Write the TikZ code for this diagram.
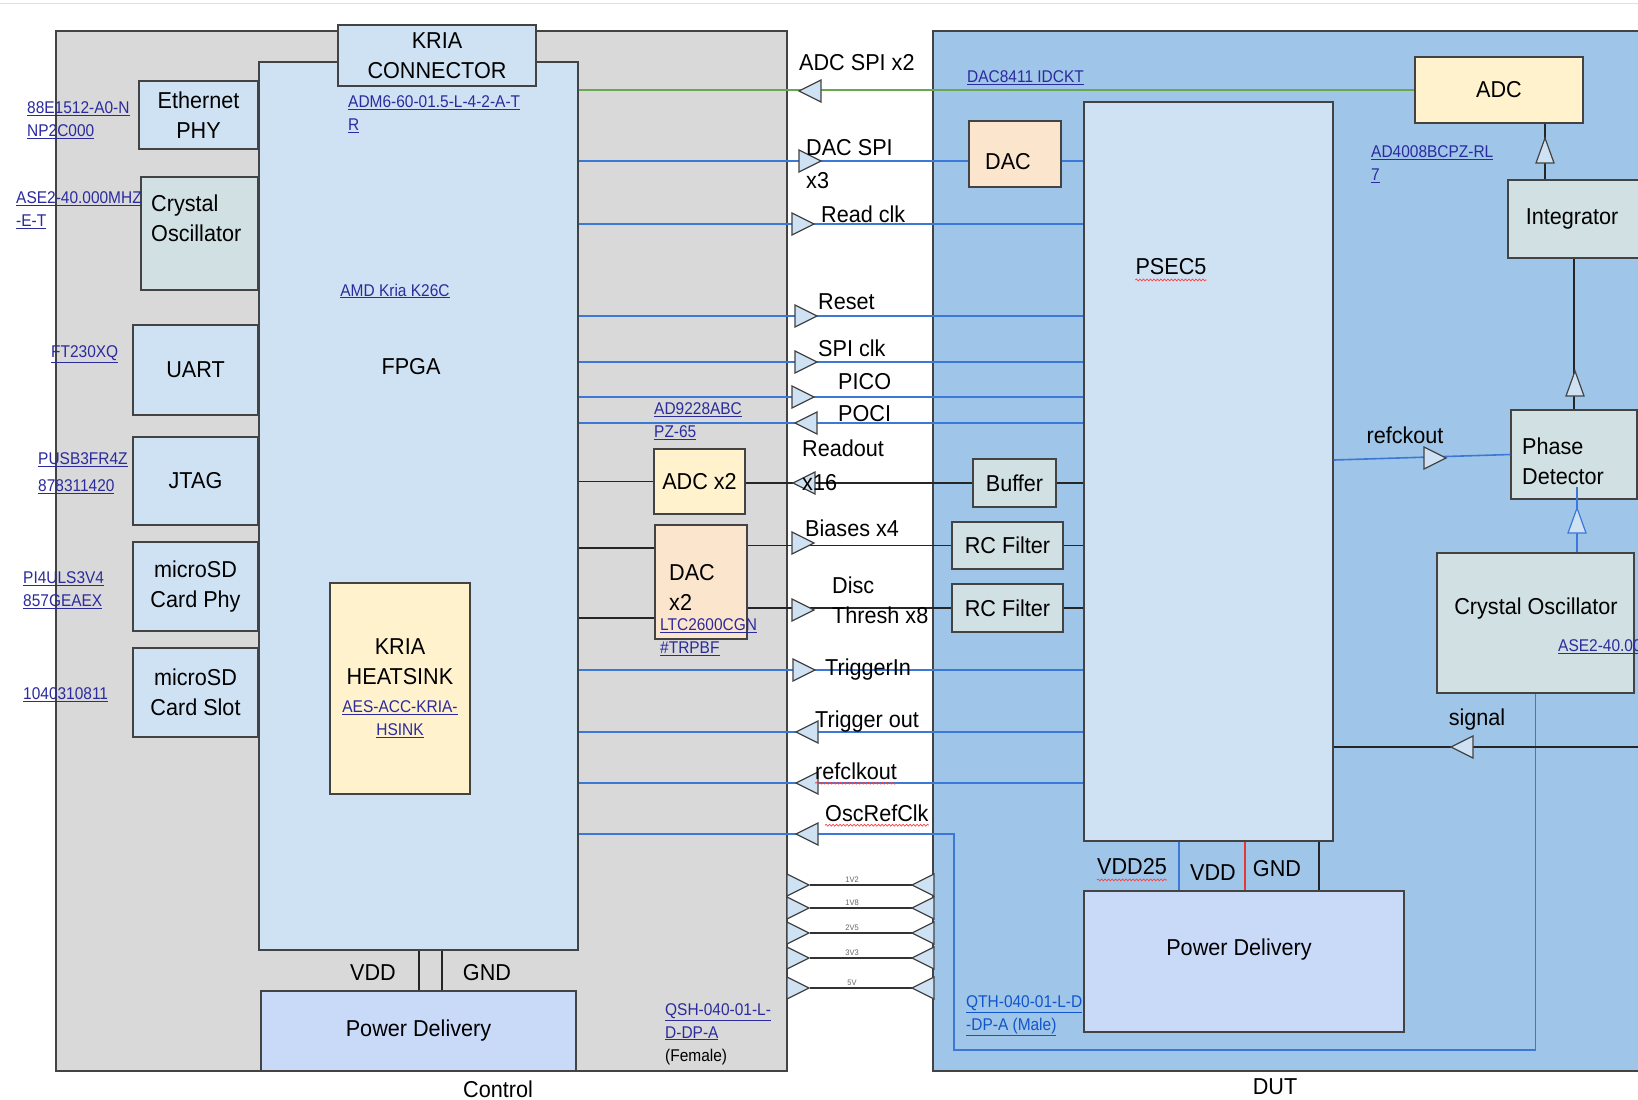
\documentclass[tikz,border=0pt]{standalone}
\usepackage{fontspec}
\setmainfont{Liberation Sans}[FakeStretch=0.94]
\newfontfamily\lnkfont{Liberation Sans}[FakeStretch=0.91]
\usetikzlibrary{decorations.pathmorphing}

\definecolor{ctrlgray}{HTML}{D9D9D9}
\definecolor{dutblue}{HTML}{9FC5E8}
\definecolor{paleblue}{HTML}{CFE2F3}
\definecolor{palecyan}{HTML}{D0E0E3}
\definecolor{paleyel}{HTML}{FFF2CC}
\definecolor{paleorg}{HTML}{FCE5CD}
\definecolor{pdblue}{HTML}{C9DAF8}
\definecolor{boxline}{HTML}{434343}
\definecolor{wireblue}{HTML}{3C78D8}
\definecolor{wiregreen}{HTML}{6AA84F}
\definecolor{wirered}{HTML}{E53935}
\definecolor{linkc}{HTML}{2B2B9E}
\definecolor{linkb}{HTML}{1155CC}

\newcommand{\mainsz}{\fontsize{23}{30}\selectfont}
\newcommand{\lnksz}{\lnkfont\fontsize{17}{23}\selectfont}
\newcommand{\ulk}[1]{\underline{#1}}
\newcommand{\triR}[3][boxline]{\filldraw[tri, draw=#1] (#2,#3-11) -- (#2+22,#3) -- (#2,#3+11) -- cycle;}
\newcommand{\triL}[3][boxline]{\filldraw[tri, draw=#1] (#2,#3-11) -- (#2-22,#3) -- (#2,#3+11) -- cycle;}
\newcommand{\triU}[3][boxline]{\filldraw[tri, draw=#1] (#2-9,#3) -- (#2,#3-25) -- (#2+9,#3) -- cycle;}

\tikzset{
  blk/.style={draw=boxline, line width=1.4pt, inner sep=0pt, align=center, font=\mainsz},
  txt/.style={inner sep=0pt, align=left, font=\mainsz, text=black},
  lnk/.style={inner sep=0pt, align=left, font=\lnksz, text=linkc},
  sigb/.style={draw=wireblue, line width=1.6pt},
  sigg/.style={draw=wiregreen, line width=1.6pt},
  sigk/.style={draw=black!85, line width=1.4pt},
  tri/.style={fill=paleblue, line width=1.2pt},
  pwrtag/.style={font=\fontsize{8}{8}\selectfont, text=black!60, inner sep=0pt},
  spell/.style={draw=red!75, line width=0.7pt, decorate,
    decoration={snake, amplitude=0.9pt, segment length=3.5pt}}
}

\begin{document}
\begin{tikzpicture}[x=1pt, y=-1pt]
    % --- 0. 畫布 ---
    \useasboundingbox (0,0) rectangle (1638,1100);
    \clip (0,0) rectangle (1638,1100);
    \fill[white] (0,0) rectangle (1638,1100);
    \draw[black!12, line width=1pt] (0,3) -- (1638,3);

    % --- 1. 外框 Control 與 DUT ---
    \node[blk, fill=ctrlgray, minimum width=731, minimum height=1040] (ctrl) at (421.5,551) {};
    \node[blk, fill=dutblue, minimum width=727, minimum height=1040] (dut) at (1296.5,551) {};
    \node[txt] (ctrlT) at (498,1089) {Control};
    \node[txt] (dutT) at (1275,1087) {DUT};

    % --- 2. FPGA 與 KRIA ---
    \node[blk, fill=paleblue, minimum width=319, minimum height=888] (fpga) at (418.5,506) {};
    \node[blk, fill=paleblue, minimum width=198, minimum height=61] (kconn) at (437,55.5) {KRIA\\CONNECTOR};
    \node[lnk, anchor=west] (admL) at (348,114) {\ulk{ADM6-60-01.5-L-4-2-A-T}\\\ulk{R}};
    \node[lnk] (k26L) at (395,291) {\ulk{AMD Kria K26C}};
    \node[txt] (fpgaT) at (411,367) {FPGA};
    \node[blk, fill=paleyel, minimum width=140, minimum height=211] (sink) at (400,688.5)
      {KRIA\\HEATSINK\\[-2pt]{\lnksz\color{linkc}\ulk{AES-ACC-KRIA-}}\\[-7pt]{\lnksz\color{linkc}\ulk{HSINK}}};

    % --- 3. 左側周邊 ---
    \node[blk, fill=paleblue, minimum width=119, minimum height=68] (eth) at (198.5,115) {Ethernet\\PHY};
    \node[blk, fill=palecyan, minimum width=117, minimum height=113] (xoL) at (199.5,233.5) {};
    \node[txt, anchor=west] (xoLT) at (151,218) {Crystal\\Oscillator};
    \node[blk, fill=paleblue, minimum width=125, minimum height=90] (uart) at (195.5,370) {UART};
    \node[blk, fill=paleblue, minimum width=125, minimum height=88] (jtag) at (195.5,481) {JTAG};
    \node[blk, fill=paleblue, minimum width=125, minimum height=89] (sdphy) at (195.5,586.5) {microSD\\Card Phy};
    \node[blk, fill=paleblue, minimum width=125, minimum height=89] (sdslot) at (195.5,692.5) {microSD\\Card Slot};

    \node[lnk, anchor=west] (ethL) at (27,120) {\ulk{88E1512-A0-N}\\\ulk{NP2C000}};
    \node[lnk, anchor=west] (xoLL) at (16,210) {\ulk{ASE2-40.000MHZ}\\\ulk{-E-T}};
    \node[lnk, anchor=west] (uartL) at (51,354) {\ulk{FT230XQ}};
    \node[lnk, anchor=west] (jtagL) at (38,473) {\ulk{PUSB3FR4Z}\\[4pt]\ulk{878311420}};
    \node[lnk, anchor=west] (sdphyL) at (23,590) {\ulk{PI4ULS3V4}\\\ulk{857GEAEX}};
    \node[lnk, anchor=west] (sdslotL) at (23,695) {\ulk{1040310811}};

    % --- 4. ADC x2 與 DAC x2 ---
    \node[blk, fill=paleyel, minimum width=91, minimum height=65] (adc2) at (699.5,481.5) {ADC x2};
    \node[lnk, anchor=west] (adc2L) at (654,421) {\ulk{AD9228ABC}\\\ulk{PZ-65}};
    \node[blk, fill=paleorg, minimum width=92, minimum height=114] (dac2) at (701,582) {};
    \node[txt, anchor=west] (dac2T) at (669,587) {DAC\\x2};
    \node[lnk, anchor=west] (dac2L) at (660,637) {\ulk{LTC2600CGN}\\\ulk{\#TRPBF}};

    % --- 5. 電源 (Control) ---
    \node[blk, fill=pdblue, minimum width=315, minimum height=80] (pdC) at (418.5,1031) {Power Delivery};
    \node[txt] (vddC) at (373,973) {VDD};
    \node[txt] (gndC) at (487,973) {GND};
    \node[lnk, anchor=west] (qshL) at (665,1034) {\ulk{QSH-040-01-L-}\\\ulk{D-DP-A}\\{\color{black}(Female)}};

    % --- 6. DUT 方塊 ---
    \node[blk, fill=paleblue, minimum width=249, minimum height=739] (psec) at (1208.5,471.5) {};
    \node[txt] (psecT) at (1171,267) {PSEC5};
    \node[blk, fill=paleorg, minimum width=92, minimum height=66] (dac) at (1015,154) {};
    \node[txt] (dacT) at (1008,162) {DAC};
    \node[blk, fill=paleyel, minimum width=168, minimum height=66] (adc) at (1499,90) {ADC};
    \node[lnk, anchor=west] (dacL) at (967,78) {\ulk{DAC8411 IDCKT}};
    \node[lnk, anchor=west] (adcL) at (1371,164) {\ulk{AD4008BCPZ-RL}\\\ulk{7}};
    \node[blk, fill=palecyan, minimum width=152, minimum height=78] (integ) at (1584,219) {};
    \node[txt] (integT) at (1572,219) {Integrator};
    \node[blk, fill=palecyan, minimum width=126, minimum height=89] (phase) at (1574,454.5) {};
    \node[txt, anchor=west] (phaseT) at (1522,461) {Phase\\Detector};
    \node[blk, fill=palecyan, minimum width=197, minimum height=140] (xoR) at (1535.5,623) {};
    \node[txt] (xoRT) at (1536,609) {Crystal Oscillator};
    \node[lnk, anchor=west] (xoRL) at (1558,647) {\ulk{ASE2-40.000MHZ-E-T}};
    \node[blk, fill=palecyan, minimum width=83, minimum height=48] (buf) at (1014.5,483) {Buffer};
    \node[blk, fill=palecyan, minimum width=111, minimum height=47] (rcA) at (1007.5,545.5) {RC Filter};
    \node[blk, fill=palecyan, minimum width=111, minimum height=48] (rcB) at (1007.5,608) {RC Filter};
    \node[blk, fill=pdblue, minimum width=320, minimum height=141] (pdD) at (1244,961.5) {};
    \node[txt] (pdDT) at (1239,950) {Power Delivery};
    \node[txt] (vdd25) at (1132,867) {VDD25};
    \node[txt] (vddD) at (1213,873) {VDD};
    \node[txt] (gndD) at (1277,869) {GND};
    \node[lnk, text=linkb, anchor=west] (qthL) at (966,1016) {\ulk{QTH-040-01-L-D}\\\ulk{-DP-A (Male)}};

    % --- 7. 定義訊號高度 ---
    \coordinate (yDacSpi) at (0,161);
    \coordinate (yRdClk) at (0,224);
    \coordinate (yReset) at (0,316);
    \coordinate (ySpiClk) at (0,362);
    \coordinate (yPico) at (0,397);
    \coordinate (yPoci) at (0,423);
    \coordinate (yDacA) at (0,548);
    \coordinate (yDacB) at (0,618);
    \coordinate (yTrgIn) at (0,670);
    \coordinate (yTrgOut) at (0,732);
    \coordinate (yRefOut) at (0,783);
    \coordinate (yOsc) at (0,834);
    \coordinate (yRefck) at (0,460);
    \coordinate (sigEnd) at (1638,747);
    \coordinate (oscBend) at (954,1050);
    \coordinate (xInt) at (1545,0);
    \coordinate (xPd) at (1577,0);
    \coordinate (xVddC) at (419,0);
    \coordinate (xGndC) at (442,0);
    \coordinate (xVdd25) at (1179,0);
    \coordinate (xVddD) at (1245,0);
    \coordinate (xGndD) at (1319,0);

    % --- 8. 連線 ---
    \draw[sigg] (fpga.east |- adc.west) -- (adc.west);
    \draw[sigb] (fpga.east |- yDacSpi) -- (dac.west |- yDacSpi);
    \draw[sigb] (dac.east |- yDacSpi) -- (psec.west |- yDacSpi);
    \draw[sigb] (fpga.east |- yRdClk) -- (psec.west |- yRdClk);
    \draw[sigb] (fpga.east |- yReset) -- (psec.west |- yReset);
    \draw[sigb] (fpga.east |- ySpiClk) -- (psec.west |- ySpiClk);
    \draw[sigb] (fpga.east |- yPico) -- (psec.west |- yPico);
    \draw[sigb] (fpga.east |- yPoci) -- (psec.west |- yPoci);
    \draw[sigb] (fpga.east |- yTrgIn) -- (psec.west |- yTrgIn);
    \draw[sigb] (fpga.east |- yTrgOut) -- (psec.west |- yTrgOut);
    \draw[sigb] (fpga.east |- yRefOut) -- (psec.west |- yRefOut);
    \draw[sigb] (fpga.east |- yOsc) -| (oscBend) -| (xoR.south);
    \draw[sigk] (fpga.east |- adc2.west) -- (adc2.west);
    \draw[sigk] (adc2.east |- buf.west) -- (buf.west);
    \draw[sigk] (buf.east) -- (psec.west |- buf.east);
    \draw[sigk] (fpga.east |- yDacA) -- (dac2.west |- yDacA);
    \draw[sigk] (fpga.east |- yDacB) -- (dac2.west |- yDacB);
    \draw[sigk] (dac2.east |- rcA.west) -- (rcA.west);
    \draw[sigk] (rcA.east) -- (psec.west |- rcA.east);
    \draw[sigk] (dac2.east |- rcB.west) -- (rcB.west);
    \draw[sigk] (rcB.east) -- (psec.west |- rcB.east);
    \draw[sigk] (sigEnd) -- (psec.east |- sigEnd);
    \draw[sigk] (xInt |- integ.north) -- (xInt |- adc.south);
    \draw[sigk] (phase.north) -- (phase.north |- integ.south);
    \draw[sigb] (xPd |- xoR.north) -- ([yshift=13pt]xPd |- phase.south);
    \draw[sigb] (psec.east |- yRefck) -- (phase.west);
    \draw[sigk] (xVddC |- fpga.south) -- (xVddC |- pdC.north);
    \draw[sigk] (xGndC |- fpga.south) -- (xGndC |- pdC.north);
    \draw[sigb] (xVdd25 |- psec.south) -- (xVdd25 |- pdD.north);
    \draw[draw=wirered, line width=1.4pt] (xVddD |- psec.south) -- (xVddD |- pdD.north);
    \draw[sigk] (xGndD |- psec.south) -- (xGndD |- pdD.north);

    % --- 9. 箭頭 ---
    \triL{821}{91}
    \triR{799}{161}
    \triR{792}{224}
    \triR{795}{316}
    \triR{795}{362}
    \triR{792}{397}
    \triL{817}{423}
    \triL{815}{483}
    \triR{792}{543}
    \triR{792}{610}
    \triR{793}{670}
    \triL{818}{732}
    \triL{818}{783}
    \triL{818}{834}
    \triR{1424}{458}
    \triL{1473}{747}
    \triU{1545}{163}
    \triU{1575}{396}
    \triU[wireblue]{1577}{533}

    % --- 10. 電源接頭 ---
    \foreach \yv/\lab in {885/1V2, 908/1V8, 933/2V5, 958/3V3, 988/5V} {
      \draw[black!80, line width=1.2pt] (810,\yv) -- (912,\yv);
      \triR{787}{\yv}
      \triL{934}{\yv}
      \node[pwrtag] (pw\lab) at (852,\yv-5) {\lab};
    }

    % --- 11. 訊號標籤 ---
    \node[txt, anchor=west] (adcspiT) at (799,63) {ADC SPI x2};
    \node[txt, anchor=west] (dacspiT) at (806,164) {DAC SPI\\[3pt]x3};
    \node[txt, anchor=west] (rdclkT) at (821,214) {Read clk};
    \node[txt, anchor=west] (resetT) at (818,302) {Reset};
    \node[txt, anchor=west] (spiclkT) at (818,348) {SPI clk};
    \node[txt, anchor=west] (picoT) at (838,382) {PICO};
    \node[txt, anchor=west] (pociT) at (838,414) {POCI};
    \node[txt, anchor=west] (readT) at (802,465) {Readout\\[4pt]x16};
    \node[txt, anchor=west] (biasT) at (805,528) {Biases x4};
    \node[txt, anchor=west] (discT) at (832,600) {Disc\\Thresh x8};
    \node[txt, anchor=west] (trgInT) at (825,670) {TriggerIn};
    \node[txt, anchor=west] (trgOutT) at (815,722) {Trigger out};
    \node[txt, anchor=west] (refOutT) at (815,771) {refclkout};
    \node[txt, anchor=west] (oscT) at (825,813) {OscRefClk};
    \node[txt] (refckT) at (1405,435) {refckout};
    \node[txt] (signalT) at (1477,720) {signal};

    % --- 12. 拼字底線 ---
    \draw[spell] ([yshift=-5pt]psecT.base west) -- ([yshift=-5pt]psecT.base east);
    \draw[spell] ([yshift=-5pt]vdd25.base west) -- ([yshift=-5pt]vdd25.base east);
    \draw[spell] ([yshift=-4pt]refOutT.base west) -- ([yshift=-4pt]refOutT.base east);
    \draw[spell] ([yshift=-4pt]oscT.base west) -- ([yshift=-4pt]oscT.base east);
\end{tikzpicture}
\end{document}
